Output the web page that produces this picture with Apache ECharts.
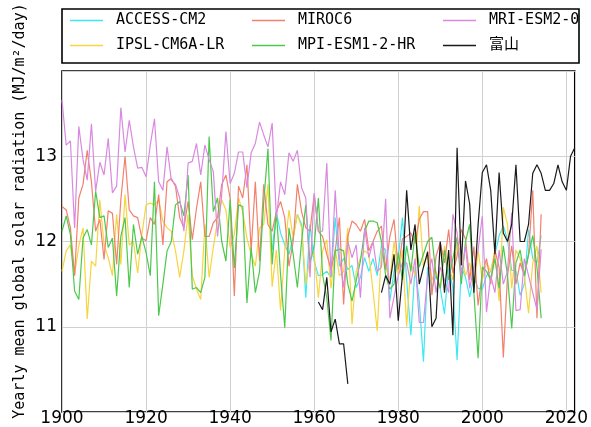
<!DOCTYPE html>
<html>
<head>
<meta charset="utf-8">
<script src="https://cdn.jsdelivr.net/npm/echarts@6/dist/echarts.min.js"></script>
<style>
html,body{margin:0;padding:0;background:#fff;}
#chart{width:591px;height:427px;}
</style>
</head>
<body>
<div id="chart"></div>
<script>
// ---- data ----
const modelStart = 1900;
const accessStart = 1950;
const obsStart = 1961;

const accessCM2 = [
11.90,12.34,12.10,11.96,11.85,12.05,12.32,12.20,11.34,12.20,
11.77,11.60,11.61,11.65,11.58,12.28,11.71,11.80,11.67,11.72,
11.46,11.58,11.81,11.65,11.80,11.60,11.95,11.90,11.30,11.65,
11.80,12.28,11.55,10.90,11.70,11.30,10.59,11.70,11.45,11.60,
11.45,11.15,11.70,11.45,10.61,11.70,11.58,11.35,11.58,11.45,
11.44,11.60,11.65,11.85,12.07,12.18,12.02,11.66,11.66,11.37,
11.50,12.14,11.80,11.75,12.07];

const ipslCM6ALR = [
11.65,11.89,11.96,11.61,11.95,12.16,11.09,11.77,11.71,12.49,
11.96,11.81,11.60,12.32,11.73,12.55,11.96,12.00,11.63,12.08,
12.43,12.45,12.43,12.49,12.24,12.16,12.12,11.89,11.58,11.89,
12.32,11.60,11.44,11.32,12.20,11.58,11.93,12.24,12.49,12.37,
11.93,12.08,12.51,12.35,12.04,11.85,11.71,12.16,12.20,12.67,
11.47,11.90,11.19,11.90,12.37,12.04,12.32,12.16,11.50,11.80,
11.85,11.34,11.89,12.02,11.45,11.91,11.60,11.65,12.16,11.03,
11.65,11.81,11.89,11.85,11.42,10.95,11.90,11.70,11.55,12.00,
11.60,11.90,11.00,11.75,11.60,12.42,11.70,11.85,11.55,11.65,
11.45,11.95,11.70,11.55,12.00,11.85,11.60,11.75,11.45,11.90,
11.55,11.75,11.65,11.90,11.30,12.40,12.20,11.45,11.90,11.80,
11.60,11.16,11.75,11.95,11.40];

const miroc6 = [
12.41,12.37,12.16,11.60,12.51,12.67,13.07,12.70,12.12,12.26,
11.79,12.36,12.33,11.73,12.49,13.00,12.37,12.30,12.28,12.04,
12.01,12.28,12.20,12.55,11.96,12.70,12.74,12.65,12.28,12.16,
12.47,12.02,12.39,12.70,12.06,12.06,12.22,12.28,12.67,12.78,
12.51,11.36,12.65,12.51,12.90,11.89,12.70,11.77,12.67,12.20,
12.12,12.35,12.47,12.28,11.71,12.00,12.67,12.35,12.16,12.12,
12.55,12.12,12.06,11.85,11.67,11.89,12.28,11.26,12.06,12.24,
12.20,12.12,12.26,11.89,12.00,12.12,12.18,11.67,12.06,12.26,
11.67,12.03,12.06,12.10,11.98,12.26,12.35,12.35,11.37,11.83,
11.99,11.75,12.14,11.63,11.83,12.14,12.03,11.55,11.94,11.25,
11.63,11.80,11.50,11.90,11.70,10.64,11.60,11.95,11.50,11.75,
11.60,11.85,12.60,11.10,12.32];

const mpiESM12HR = [
12.12,12.30,12.08,11.42,11.32,12.04,12.14,11.96,12.59,12.28,
12.30,11.93,12.04,11.36,12.06,12.28,11.46,12.20,11.85,12.06,
11.87,11.60,12.70,11.13,11.50,11.89,12.00,12.43,12.47,12.30,
12.78,11.44,11.46,11.40,11.58,13.23,12.35,12.51,12.00,11.77,
12.49,11.69,12.43,12.41,11.28,11.93,11.40,11.65,12.47,13.09,
11.73,12.35,11.61,10.99,12.16,11.85,11.46,12.00,12.43,11.75,
11.95,12.51,11.61,11.34,10.84,11.89,11.91,11.89,11.50,11.30,
11.54,11.77,12.12,12.24,12.24,12.22,12.00,11.60,11.44,11.50,
11.87,11.55,11.95,11.65,12.10,11.70,11.85,12.00,12.05,11.60,
11.45,11.90,11.55,11.80,12.05,11.50,12.00,12.20,11.40,10.63,
11.70,11.65,11.55,11.80,11.45,11.95,11.60,10.98,11.75,11.90,
11.60,11.85,12.07,11.70,11.10];

const mriESM20 = [
13.66,13.13,13.18,12.16,13.35,12.96,12.72,13.38,12.59,12.93,
12.78,13.21,12.57,12.65,13.57,13.05,13.42,13.11,12.86,12.87,
12.76,13.13,13.44,12.70,12.60,13.11,12.72,12.67,12.51,12.12,
12.92,12.94,13.15,12.78,13.13,12.96,12.82,12.06,12.55,13.29,
12.68,12.80,13.05,13.05,12.63,13.04,13.15,13.40,13.25,13.11,
13.39,12.28,12.70,12.55,13.04,12.94,13.07,12.63,12.51,11.58,
12.57,12.12,12.12,12.92,11.58,12.60,11.81,11.46,12.00,11.81,
11.96,11.34,12.16,11.81,12.00,11.65,11.70,12.50,11.10,11.35,
11.60,11.75,11.75,11.50,11.80,11.05,11.05,11.60,11.80,11.40,
11.70,11.55,11.40,12.32,12.10,11.60,11.95,11.45,11.70,11.90,
12.30,11.17,11.60,11.40,11.90,11.50,11.65,12.34,11.19,11.20,
11.80,11.60,11.40,11.20,11.91];

const toyama = [
11.29,11.20,11.58,10.94,11.09,10.80,10.80,10.33,
null,null,null,null,null,null,null,
11.40,11.60,11.50,11.85,11.07,11.60,12.60,11.90,12.20,11.50,
11.70,11.88,11.00,11.10,12.00,11.40,11.90,10.90,13.10,11.72,
12.71,12.44,11.40,12.20,12.81,12.90,12.60,11.85,12.81,12.10,
12.00,12.20,12.90,12.00,12.00,12.20,12.80,12.90,12.80,12.60,
12.60,12.68,12.90,12.70,12.60,13.00,13.10];

const seriesNames = ['ACCESS-CM2','IPSL-CM6A-LR','MIROC6','MPI-ESM1-2-HR','MRI-ESM2-0','富山'];
const seriesColors = ['#3de8f2','#f7d53e','#f2806c','#4cc94c','#d98ae0','#1a1a1a'];
const xTicks = [1900,1920,1940,1960,1980,2000,2020];
const yTicks = [11,12,13];

// ---- build ----
function pairs(start, vals){ return vals.map((v,i)=>[start+i, v]); }
const seriesData = [
  pairs(accessStart, accessCM2),
  pairs(modelStart, ipslCM6ALR),
  pairs(modelStart, miroc6),
  pairs(modelStart, mpiESM12HR),
  pairs(modelStart, mriESM20),
  pairs(obsStart, toyama)
];

const monoFont = '"DejaVu Sans Mono", "Noto Sans CJK JP", monospace';

// legend positions (matplotlib ncol=3 column-wise)
const legendPos = [
  {left:70, top:13}, {left:70, top:38},
  {left:252, top:13}, {left:252, top:38},
  {left:443, top:13}, {left:443, top:38}
];
const legends = seriesNames.map((n,i)=>({
  data:[n], left:legendPos[i].left, top:legendPos[i].top,
  orient:'horizontal', icon:'rect', itemWidth:33, itemHeight:1.6,
  padding:0, selectedMode:false,
  textStyle:{fontFamily:monoFont, fontSize:15, color:'#000', padding:[0,0,0,8]}
}));

const chart = echarts.init(document.getElementById('chart'), null, {renderer:'canvas'});
chart.setOption({
  animation:false,
  backgroundColor:'#fff',
  legend: legends,
  grid:{left:62, right:12, top:71, bottom:14, show:true, borderColor:'#000', borderWidth:1.6, backgroundColor:'transparent'},
  xAxis:{
    type:'value', min:1900, max:2022, interval:20,
    axisLine:{show:false}, axisTick:{show:false},
    splitLine:{show:true, lineStyle:{color:'#d0d0d0', width:1}},
    axisLabel:{
      fontFamily:'"DejaVu Sans", sans-serif', fontSize:17, color:'#000', margin:-2,
      showMaxLabel:true,
      formatter:v=> xTicks.indexOf(v)>=0 ? String(v) : ''
    }
  },
  yAxis:{
    type:'value', min:10, max:14, interval:1,
    axisLine:{show:false}, axisTick:{show:false},
    splitLine:{show:true, lineStyle:{color:'#d0d0d0', width:1}},
    axisLabel:{
      fontFamily:'"DejaVu Sans", sans-serif', fontSize:17, color:'#000', margin:5,
      formatter:v=> yTicks.indexOf(v)>=0 ? String(v) : ''
    }
  },
  graphic:[
    {type:'rect', shape:{x:62, y:9, width:517, height:54}, style:{fill:'none', stroke:'#000', lineWidth:1.6}, z:100},
    {type:'text', x:20, y:211, rotation:Math.PI/2,
     style:{text:'Yearly mean global solar radiation (MJ/m²/day)', fontFamily:monoFont, fontSize:15, fill:'#000', align:'center', verticalAlign:'middle'}}
  ],
  series: seriesNames.map((n,i)=>({
    name:n, type:'line', data:seriesData[i], showSymbol:false, symbol:'none',
    connectNulls:false, color:seriesColors[i],
    lineStyle:{width:1.2, color:seriesColors[i]}, emphasis:{disabled:true}
  }))
});
</script>
</body>
</html>
